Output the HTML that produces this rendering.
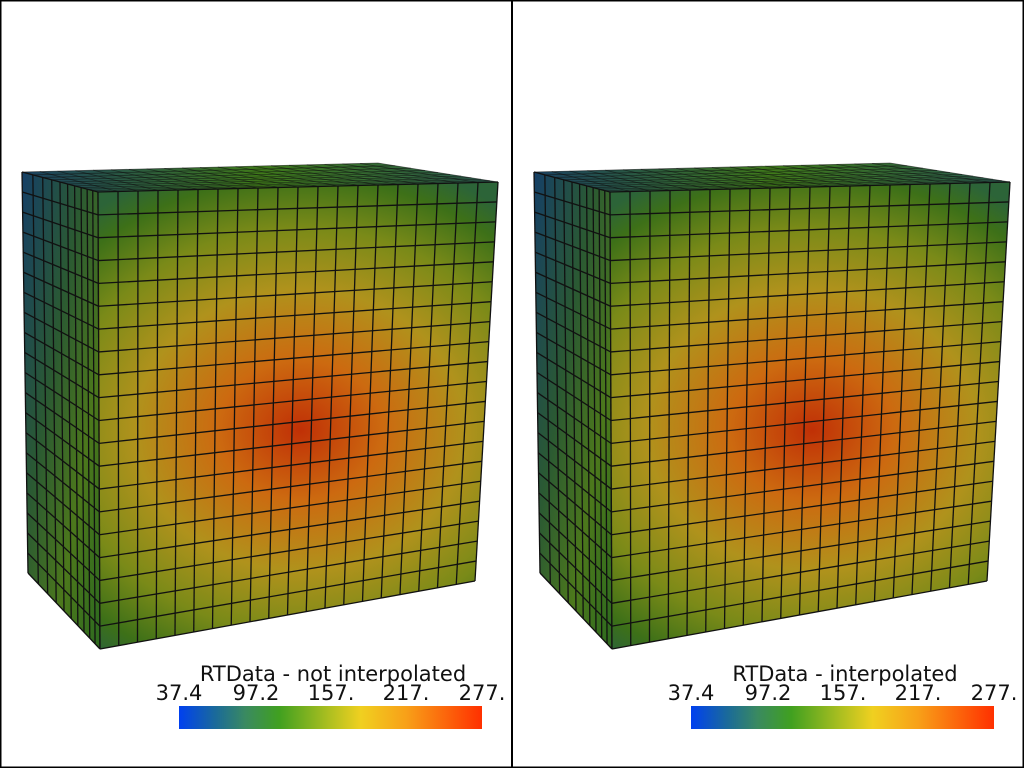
<!DOCTYPE html>
<html><head><meta charset="utf-8"><style>
html,body{margin:0;padding:0;background:#fff}
svg{display:block}
text{font-family:"DejaVu Sans","Liberation Sans",sans-serif;fill:#111}
</style></head><body>
<svg id="s" width="1024" height="768" viewBox="0 0 1024 768" xmlns="http://www.w3.org/2000/svg">
<defs>
<radialGradient id="fr" gradientUnits="userSpaceOnUse" cx="300" cy="430" r="330" gradientTransform="translate(300 430) scale(1 0.85) translate(-300 -430)">
<stop offset="0" stop-color="#c03006"/>
<stop offset="0.25" stop-color="#cc6a10"/>
<stop offset="0.5" stop-color="#b0921c"/>
<stop offset="0.72" stop-color="#7a8a18"/>
<stop offset="0.9" stop-color="#3d7018"/>
<stop offset="1" stop-color="#2c6438"/>
</radialGradient>
<linearGradient id="sd" x1="0" y1="0" x2="1" y2="1">
<stop offset="0" stop-color="#153f66"/>
<stop offset="0.4" stop-color="#2b5a32"/>
<stop offset="0.7" stop-color="#4c781c"/>
<stop offset="1" stop-color="#2d6a1e"/>
</linearGradient>
<linearGradient id="tp" x1="0" y1="0" x2="1" y2="0">
<stop offset="0" stop-color="#1a4060"/>
<stop offset="0.5" stop-color="#3f7a1a"/>
<stop offset="1" stop-color="#2a5a50"/>
</linearGradient>
<linearGradient id="cb" x1="0" y1="0" x2="1" y2="0">
<stop offset="0" stop-color="#0040f0"/>
<stop offset="0.12" stop-color="#1a6a9a"/>
<stop offset="0.22" stop-color="#3a8a60"/>
<stop offset="0.33" stop-color="#40a020"/>
<stop offset="0.5" stop-color="#b0c020"/>
<stop offset="0.6" stop-color="#f0d020"/>
<stop offset="0.75" stop-color="#f8a018"/>
<stop offset="1" stop-color="#ff3000"/>
</linearGradient>
</defs>
<g id="L"></g>
<g id="R" transform="translate(512 0)"></g>
<text x="333" y="681" font-size="21" text-anchor="middle">RTData - not interpolated</text>
<text x="845" y="681" font-size="21" text-anchor="middle">RTData - interpolated</text>
<g font-size="21" text-anchor="middle">
<text x="179" y="700">37.4</text><text x="256" y="700">97.2</text><text x="331" y="700">157.</text><text x="406" y="700">217.</text><text x="482" y="700">277.</text>
<text x="691" y="700">37.4</text><text x="768" y="700">97.2</text><text x="843" y="700">157.</text><text x="918" y="700">217.</text><text x="994" y="700">277.</text>
</g>
<rect x="179" y="706" width="303" height="23" fill="url(#cb)"/>
<rect x="691" y="706" width="303" height="23" fill="url(#cb)"/>
<rect x="0.5" y="0.5" width="1023" height="767" fill="none" stroke="#000" stroke-width="2"/>
<line x1="512" y1="0" x2="512" y2="768" stroke="#000" stroke-width="2"/>
</svg>
<script>
function cube(g){
 var h="";
 function L(a,b,t){return [a[0]+(b[0]-a[0])*t,a[1]+(b[1]-a[1])*t];}
 function quad(p,fill,n,m,fu,fv,sw,op){
  h+='<polygon points="'+p.map(function(q){return q.join(",")}).join(" ")+'" fill="'+fill+'"/>';
  var st=' stroke="#111" stroke-width="'+sw+'" stroke-opacity="'+op+'"/>';
  for(var i=0;i<=n;i++){var t=fu(i/n);var a=L(p[0],p[1],t),b=L(p[3],p[2],t);
   h+='<line x1="'+a[0]+'" y1="'+a[1]+'" x2="'+b[0]+'" y2="'+b[1]+'"'+st;}
  for(var j=0;j<=m;j++){var t=fv(j/m);var a=L(p[0],p[3],t),b=L(p[1],p[2],t);
   h+='<line x1="'+a[0]+'" y1="'+a[1]+'" x2="'+b[0]+'" y2="'+b[1]+'"'+st;}
 }
 var id=function(t){return t};
 var persp=function(t){return t*1.5/(1+0.5*t)};
 quad([[22,172],[378,163],[498,182],[98,192]],"url(#tp)",20,10,id,persp,0.8,0.6);
 quad([[22,172],[98,192],[100,649],[28,573]],"url(#sd)",10,20,persp,id,1.3,1);
 quad([[98,192],[498,182],[475,581],[100,649]],"url(#fr)",20,20,id,id,1.3,1);
 document.getElementById(g).innerHTML=h;
}
cube("L");cube("R");
</script>
</body></html>
